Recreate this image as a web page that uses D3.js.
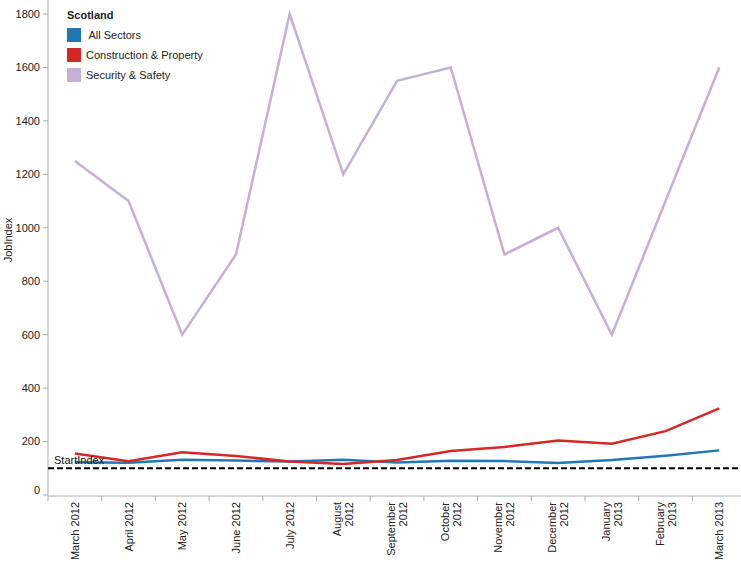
<!DOCTYPE html>
<html><head><meta charset="utf-8">
<script src="https://cdn.jsdelivr.net/npm/d3@7"></script>
<style>body{margin:0;background:#fff}svg{display:block;font-family:"Liberation Sans",Arial,sans-serif}</style>
</head><body><svg id="c" width="741" height="562"></svg>
<script>
const months = [["March 2012"],["April 2012"],["May 2012"],["June 2012"],["July 2012"],["August","2012"],["September","2012"],["October","2012"],["November","2012"],["December","2012"],["January","2013"],["February","2013"],["March 2013"]];
const allSectors = [123,121,132,129,125,132,122,128,127,120,131,147,167];
const construction = [155,126,160,146,125,116,131,165,180,204,192,239,324];
const security = [1250,1100,600,900,1800,1200,1550,1600,900,1000,600,1100,1600];
const seriesNames = [" All Sectors","Construction & Property","Security & Safety"];
const colors = ["#1f77b4","#d62728","#c5b0d5"];
const yTicks = [0,200,400,600,800,1000,1200,1400,1600,1800];
const startIndex = 100;

const svg = d3.select("#c");
const x = d3.scaleBand().domain(months.map((d,i)=>i)).range([48,746.1]).padding(0);
const y = d3.scaleLinear().domain([0,1800]).range([495,14]);

// axes lines
svg.append("line").attr("x1",48).attr("x2",48).attr("y1",0).attr("y2",496).attr("stroke","#aaa");
svg.append("line").attr("x1",48).attr("x2",741).attr("y1",496).attr("y2",496).attr("stroke","#aaa");

// y ticks
const yg = svg.append("g");
yTicks.forEach(t=>{
  yg.append("line").attr("x1",43).attr("x2",48).attr("y1",y(t)).attr("y2",y(t)).attr("stroke","#aaa");
  yg.append("text").attr("x",40).attr("y",t===0? y(t)-5 : y(t)).attr("dy","0.35em").attr("text-anchor","end")
    .attr("font-size",11).attr("fill","#222").text(t);
});
svg.append("text").attr("transform","translate(12,240) rotate(-90)").attr("text-anchor","middle")
  .attr("font-size",11).attr("fill","#222").text("JobIndex");

// x ticks
months.forEach((m,i)=>{
  const x0 = x(i);
  svg.append("line").attr("x1",x0).attr("x2",x0).attr("y1",496).attr("y2",501).attr("stroke","#aaa");
  const cx = x0 + x.bandwidth()/2;
  const offs = m.length===1 ? [0] : [-6,6];
  m.forEach((line,j)=>{
    svg.append("text").attr("transform",`translate(${cx+offs[j]+4},502) rotate(-90)`)
      .attr("text-anchor","end").attr("font-size",11).attr("fill","#222").text(line);
  });
});

// start index
svg.append("line").attr("x1",48).attr("x2",741).attr("y1",y(startIndex)).attr("y2",y(startIndex))
  .attr("stroke","#000").attr("stroke-width",2).attr("stroke-dasharray","6,3");

// lines
const line = d3.line().x((d,i)=>x(i)+x.bandwidth()/2).y(d=>y(d));
[security, allSectors, construction].forEach((s)=>{
  const ci = s===allSectors?0:s===construction?1:2;
  svg.append("path").datum(s).attr("d",line).attr("fill","none").attr("stroke",colors[ci]).attr("stroke-width",2.5);
});
svg.append("text").attr("x",54).attr("y",y(startIndex)-4).attr("font-size",11).attr("fill","#111").text("StartIndex");

// legend
svg.append("text").attr("x",67).attr("y",19).attr("font-size",11).attr("font-weight","bold").attr("fill","#222").text("Scotland");
seriesNames.forEach((n,i)=>{
  svg.append("rect").attr("x",67).attr("y",28+i*20).attr("width",14).attr("height",14).attr("fill",colors[i]);
  svg.append("text").attr("x",86).attr("y",39+i*20).attr("font-size",11).attr("fill","#222").attr("xml:space","preserve").style("white-space","pre").text(n);
});
</script></body></html>
